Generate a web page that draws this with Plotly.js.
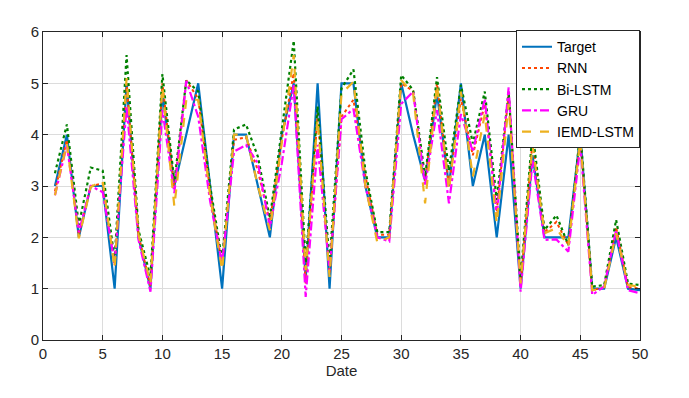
<!DOCTYPE html>
<html>
<head>
<meta charset="utf-8">
<script src="https://cdn.plot.ly/plotly-3.0.1.min.js"></script>
<style>
  body { margin: 0; background: #fff; }
  #chart { width: 689px; height: 398px; }
</style>
</head>
<body>
<div id="chart"></div>
<script>
var days = [];
for (var i = 1; i <= 50; i++) days.push(i);

var target = [3, 4, 2, 3, 3, 1, 5, 2, 1, 4.8,
              3, 4, 5, 3, 1, 4, 4, 3, 2, 4,
              5, 1.2, 5, 1, 5, 5, 3, 2, 2, 5,
              4, 3.1, 4.8, 3, 5, 3, 4, 2, 4, 1,
              3.6, 2, 2, 2, 4, 1, 1, 2, 1, 0.97];
var rnn = [2.9, 3.9, 2.05, 3.0, 3.05, 1.45, 5.0, 2.05, 1.05, 5.0,
           2.95, 5.06, 4.7, 2.9, 1.45, 3.9, 3.95, 3.3, 2.3, 3.9,
           5.2, 1.1, 4.4, 1.3, 4.35, 4.68, 3.2, 2.05, 2.05, 5.0,
           4.85, 3.1, 5.0, 3.0, 4.7, 3.6, 4.6, 2.5, 4.8, 1.05,
           3.9, 2.1, 2.3, 1.85, 3.95, 0.97, 1.03, 2.2, 1.03, 1.0];
var biLstm = [3.25, 4.2, 2.24, 3.36, 3.3, 1.56, 5.55, 2.14, 1.23, 5.18,
              3.08, 5.06, 4.84, 3.0, 1.56, 4.1, 4.2, 3.57, 2.37, 4.15,
              5.83, 1.5, 4.55, 1.5, 4.9, 5.27, 3.3, 2.1, 2.1, 5.16,
              4.87, 3.18, 5.12, 3.3, 4.97, 3.83, 4.84, 2.73, 4.84, 1.2,
              4.05, 2.14, 2.43, 1.85, 4.05, 1.04, 1.07, 2.34, 1.1, 1.07];
var gru = [2.82, 3.8, 2.1, 3.0, 2.88, 1.5, 4.55, 1.95, 0.94, 4.48,
           2.86, 5.05, 4.35, 2.7, 1.5, 3.67, 3.8, 3.44, 2.2, 3.44,
           4.97, 0.84, 3.8, 1.36, 4.3, 4.5, 3.0, 2.0, 1.92, 4.6,
           4.84, 3.0, 4.48, 2.66, 4.4, 3.67, 4.7, 2.4, 4.92, 0.94,
           3.5, 1.95, 1.96, 1.72, 3.8, 0.88, 1.04, 2.14, 0.97, 0.91];
var iemdLstm = [2.82, 3.83, 1.98, 2.98, 3.1, 1.4, 5.1, 2.05, 1.1, 4.93,
                2.6, 4.68, 4.68, 2.8, 1.36, 4.0, 4.0, 3.0, 2.14, 3.83,
                5.55, 1.36, 4.3, 1.23, 4.8, 5.03, 3.0, 1.9, 2.0, 5.06,
                4.8, 2.66, 4.97, 2.92, 4.84, 3.18, 4.4, 2.27, 4.6, 1.1,
                3.8, 2.08, 2.18, 1.82, 3.9, 0.97, 1.0, 2.08, 1.07, 1.04];

var xTicks = [0, 5, 10, 15, 20, 25, 30, 35, 40, 45, 50];
var yTicks = [0, 1, 2, 3, 4, 5, 6];

var data = [
  {x: days, y: target, mode: "lines", name: "Target",
   line: {color: "#0072BD", width: 2.2, dash: "solid"}},
  {x: days, y: rnn, mode: "lines", name: "RNN",
   line: {color: "#FF4500", width: 2, dash: "dot"}},
  {x: days, y: biLstm, mode: "lines", name: "Bi-LSTM",
   line: {color: "#008000", width: 2.2, dash: "dot"}},
  {x: days, y: gru, mode: "lines", name: "GRU",
   line: {color: "#FF00FF", width: 2.2, dash: "dashdot"}},
  {x: days, y: iemdLstm, mode: "lines", name: "IEMD-LSTM",
   line: {color: "#EDB120", width: 2.2, dash: "dash"}}
];

var axisFont = {family: "Liberation Sans, Arial, sans-serif", size: 15, color: "#262626"};

var layout = {
  width: 689,
  height: 398,
  margin: {l: 43, r: 49, t: 32, b: 58},
  paper_bgcolor: "#ffffff",
  plot_bgcolor: "#ffffff",
  showlegend: true,
  font: axisFont,
  xaxis: {
    range: [0, 50],
    tickvals: xTicks,
    ticks: "inside",
    ticklen: 5,
    tickcolor: "#262626",
    showline: true,
    linecolor: "#262626",
    linewidth: 1,
    mirror: "ticks",
    showgrid: true,
    gridcolor: "#dcdcdc",
    zeroline: false,
    tickfont: axisFont,
    title: {text: "Date", font: axisFont, standoff: 2}
  },
  yaxis: {
    range: [0, 6],
    tickvals: yTicks,
    ticks: "inside",
    ticklen: 5,
    tickcolor: "#262626",
    showline: true,
    linecolor: "#262626",
    linewidth: 1,
    mirror: "ticks",
    showgrid: true,
    gridcolor: "#dcdcdc",
    zeroline: false,
    tickfont: axisFont
  },
  legend: {
    x: 1, xanchor: "right",
    y: 1.006, yanchor: "top",
    bgcolor: "#ffffff",
    bordercolor: "#262626",
    borderwidth: 1,
    itemwidth: 30,
    tracegroupgap: 0,
    font: {family: "Liberation Sans, Arial, sans-serif", size: 14, color: "#000000"}
  }
};

Plotly.newPlot("chart", data, layout, {displayModeBar: false, staticPlot: true});
</script>
</body>
</html>
